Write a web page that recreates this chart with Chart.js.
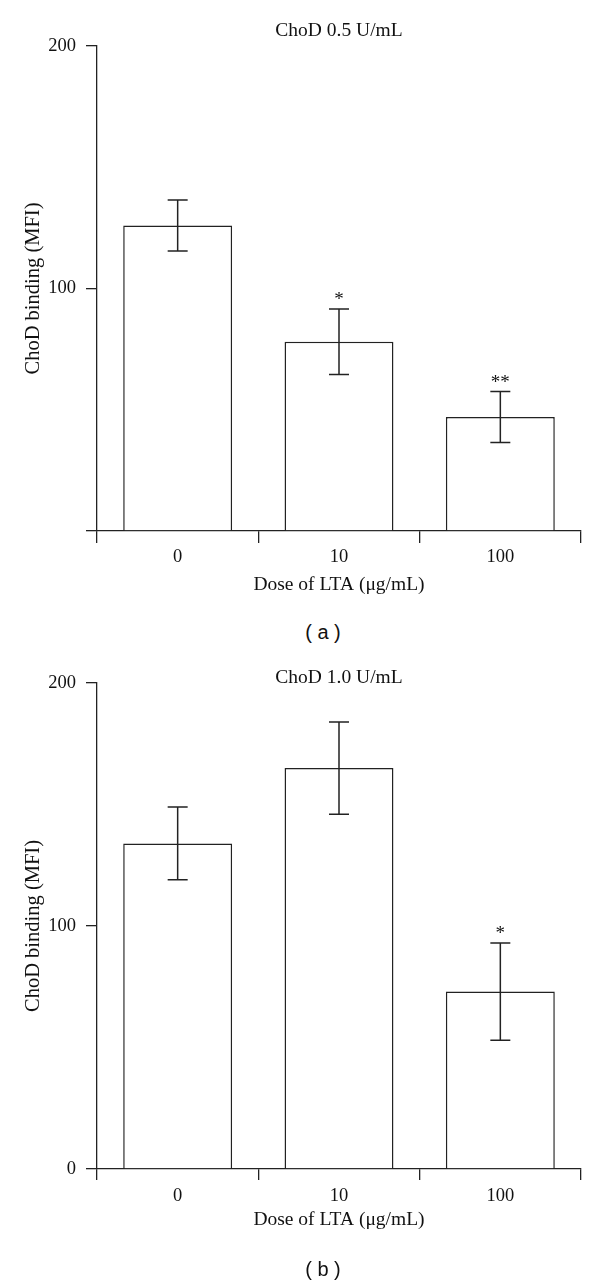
<!DOCTYPE html>
<html>
<head>
<meta charset="utf-8">
<script src="https://cdn.jsdelivr.net/npm/chart.js@4.4.1/dist/chart.umd.min.js"></script>
<style>
  body { margin: 0; background: #fff; }
  #wrap { position: relative; width: 600px; height: 1284px; }
  canvas { position: absolute; left: 0; }
  .panel { position: absolute; width: 60px; left: 293px; text-align: center;
           font: 20px "Liberation Sans", Arial, sans-serif; color: #111; line-height: 22px; }
</style>
</head>
<body>
<div id="wrap">
  <canvas id="chartA" width="600" height="620" style="top:0"></canvas>
  <div class="panel" style="top:621px">( a )</div>
  <canvas id="chartB" width="600" height="620" style="top:640px"></canvas>
  <div class="panel" style="top:1258px">( b )</div>
</div>
<script>
const doses = ["0", "10", "100"];
const yTicks = [0, 100, 200];

// ChoD 0.5 U/mL
const meanA = [126, 78, 47];
const errA = [10.5, 13.5, 10.5];
const starsA = ["", "*", "**"];

// ChoD 1.0 U/mL
const meanB = [134, 165, 73];
const errB = [15, 19, 20];
const starsB = ["", "", "*"];

const serif = '"Liberation Serif", "Times New Roman", serif';
const ink = "#222";

const errorBars = {
  id: "errorBars",
  afterDatasetsDraw(chart, args, opts) {
    const { ctx, chartArea, scales: { y } } = chart;
    const meta = chart.getDatasetMeta(0);
    ctx.save();
    ctx.strokeStyle = ink;
    ctx.lineWidth = 1.5;
    ctx.fillStyle = "#111";
    ctx.font = "19px " + serif;
    ctx.textAlign = "center";
    ctx.textBaseline = "alphabetic";
    meta.data.forEach((bar, i) => {
      const hi = y.getPixelForValue(opts.means[i] + opts.errs[i]);
      const lo = y.getPixelForValue(opts.means[i] - opts.errs[i]);
      ctx.beginPath();
      ctx.moveTo(bar.x, hi);
      ctx.lineTo(bar.x, lo);
      ctx.moveTo(bar.x - 10, hi);
      ctx.lineTo(bar.x + 10, hi);
      ctx.moveTo(bar.x - 10, lo);
      ctx.lineTo(bar.x + 10, lo);
      ctx.stroke();
      if (opts.stars[i]) ctx.fillText(opts.stars[i], bar.x, hi - opts.starGap);
    });
    // heading above the plot
    ctx.font = "19.5px " + serif;
    ctx.textBaseline = "middle";
    ctx.fillText(opts.heading, (chartArea.left + chartArea.right) / 2, chartArea.top - opts.headGap);
    ctx.restore();
  }
};

function makeChart(id, means, errs, stars, heading, cfg) {
  return new Chart(document.getElementById(id), {
    type: "bar",
    data: {
      labels: doses,
      datasets: [{
        data: means,
        backgroundColor: "#fff",
        borderColor: ink,
        borderWidth: 1.5,
        barPercentage: 0.675,
        categoryPercentage: 1
      }]
    },
    options: {
      responsive: false,
      animation: false,
      layout: { padding: { top: cfg.top, right: 19, left: 0, bottom: 0 } },
      plugins: {
        legend: { display: false },
        tooltip: { enabled: false },
        errorBars: { means, errs, stars, heading, starGap: 4, headGap: cfg.headGap }
      },
      scales: {
        x: {
          grid: { display: true, offset: true, drawOnChartArea: false, color: ink, lineWidth: 1.3, tickLength: cfg.xTick },
          border: { display: true, color: ink, width: 1.3 },
          ticks: { color: "#111", padding: cfg.xPad, font: { family: serif, size: 18.5 } },
          title: { display: true, text: "Dose of LTA (μg/mL)", color: "#111", font: { family: serif, size: 19.5 }, padding: { top: 0, bottom: cfg.titlePad } },
          afterFit: s => { s.height = cfg.xHeight; }
        },
        y: {
          min: 0, max: 200,
          afterBuildTicks: s => { s.ticks = yTicks.map(v => ({ value: v })); },
          grid: { display: true, drawOnChartArea: false, color: ink, lineWidth: 1.3, tickLength: 11 },
          border: { display: true, color: ink, width: 1.3 },
          ticks: {
            color: "#111", padding: 10, font: { family: serif, size: 18.5 },
            callback: v => (v === 0 && !cfg.showZero) ? "" : String(v)
          },
          title: { display: true, text: "ChoD binding (MFI)", color: "#111", font: { family: serif, size: 20.5 }, padding: { top: 21, bottom: 0 } },
          afterFit: s => { s.width = 97; }
        }
      }
    },
    plugins: [errorBars]
  });
}

makeChart("chartA", meanA, errA, starsA, "ChoD 0.5 U/mL",
  { top: 46, headGap: 15, xTick: 12, xPad: 3, xHeight: 89, titlePad: 23, showZero: false });
makeChart("chartB", meanB, errB, starsB, "ChoD 1.0 U/mL",
  { top: 43, headGap: 5, xTick: 11, xPad: 5, xHeight: 91, titlePad: 28, showZero: true });
</script>
</body>
</html>
